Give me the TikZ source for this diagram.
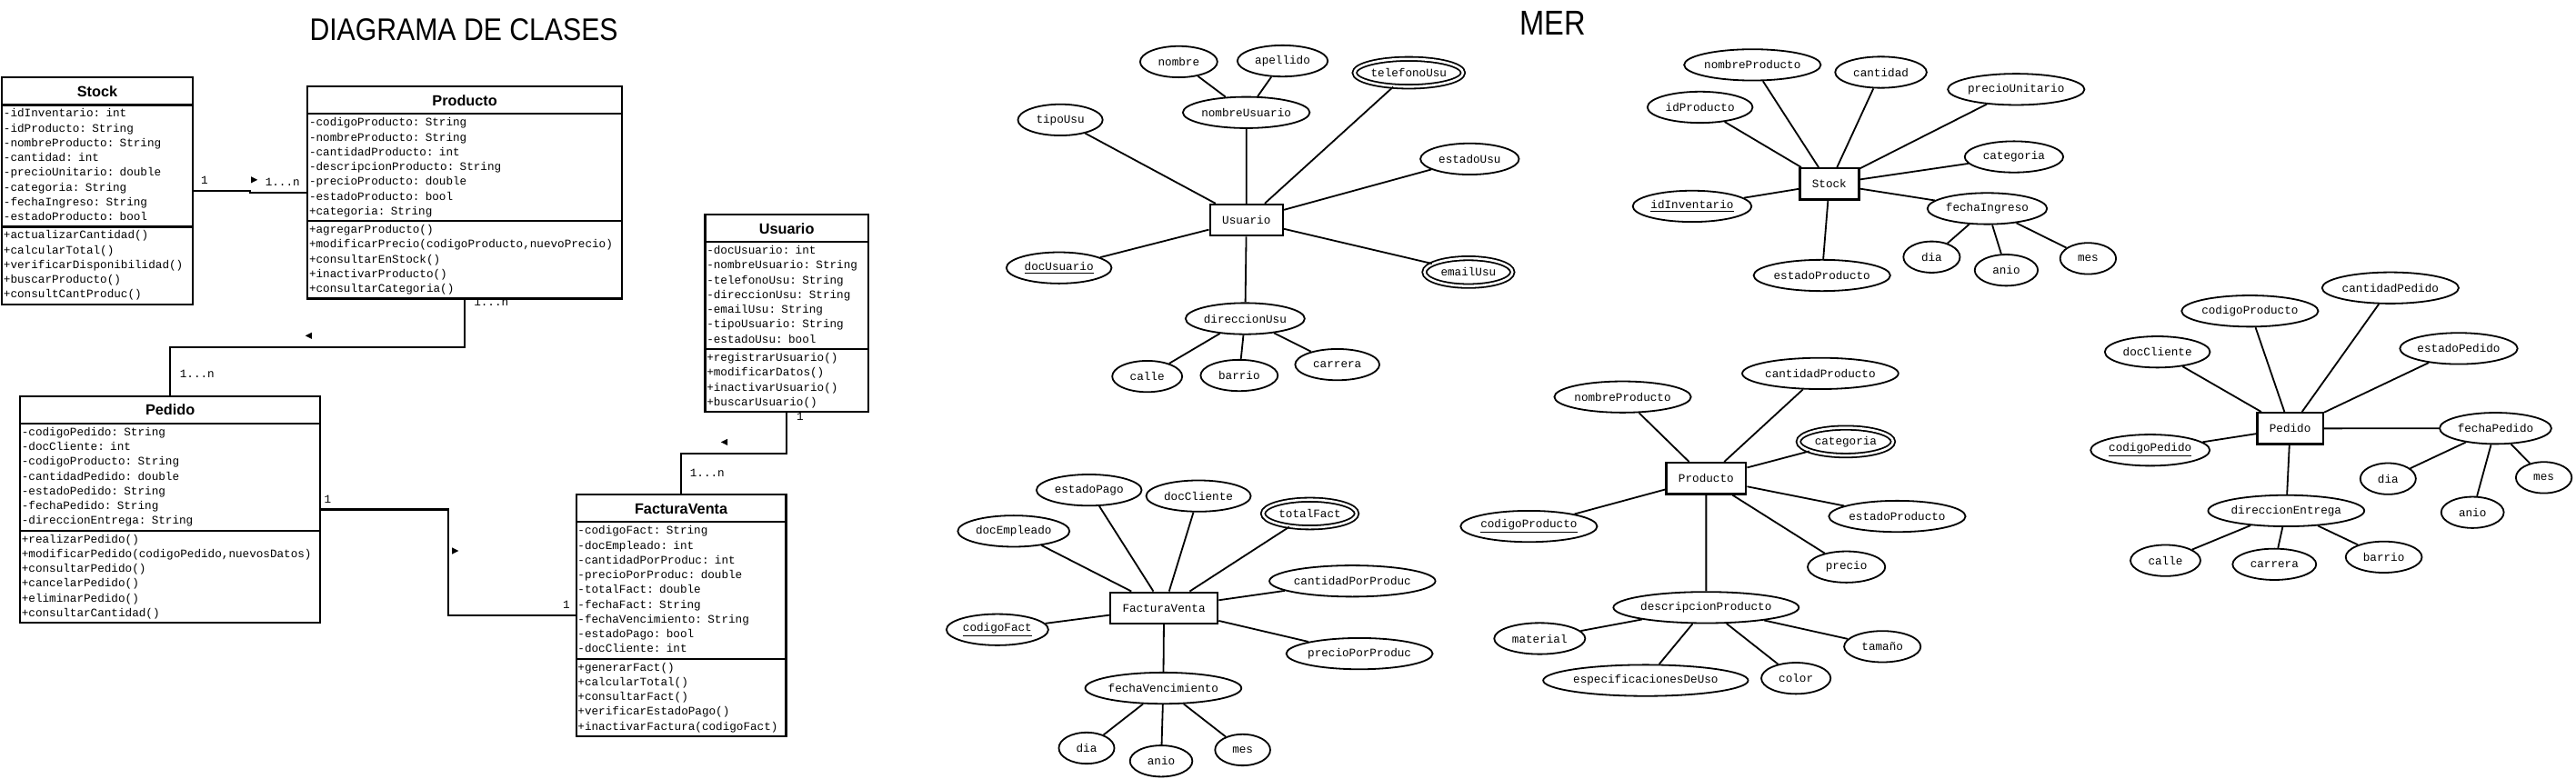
\documentclass[tikz,border=0pt]{standalone}
\usepackage{fontspec}
\usepackage{graphicx}
\newfontfamily\codefnt{Liberation Mono}
\newfontfamily\sansfnt{Liberation Sans}
\usetikzlibrary{arrows.meta,positioning,shapes.geometric,shapes.multipart,calc}

\newcommand{\clsname}[1]{\centering\sansfnt\fontsize{9}{9}\selectfont\bfseries\rule[-4pt]{0pt}{14.5pt}#1\par}
\newcommand{\clslines}[1]{\begin{tabular}{@{}l@{}}#1\end{tabular}}

\begin{document}
\begin{tikzpicture}[x=1pt,y=-1pt,
  classbox/.style={rectangle split,rectangle split parts=3,draw,line width=1.2pt,anchor=north west,
    inner xsep=1pt,inner ysep=0.5pt,font=\codefnt\fontsize{7}{9}\selectfont},
  conn/.style={line width=1.2pt},
  mult/.style={font=\codefnt\fontsize{7}{9}\selectfont,inner sep=0pt},
  navmark/.style={isosceles triangle,isosceles triangle stretches,fill,inner sep=0pt,
    minimum width=4pt,minimum height=4pt},
  entity/.style={draw,line width=1.3pt,minimum height=19pt,inner xsep=7.5pt,
    font=\codefnt\fontsize{7}{9}\selectfont},
  attr/.style={ellipse,draw,line width=1pt,minimum height=19pt,minimum width=#1,inner sep=0pt,
    font=\codefnt\fontsize{7}{9}\selectfont},
  multi/.style={attr=#1,double,double distance=1.4pt,minimum height=16.9pt},
  er/.style={line width=1pt}]
  \useasboundingbox (0,0) rectangle (1568,474);

  \node[font=\sansfnt\fontsize{19}{20}\selectfont,anchor=base] (titleCls) at (282.3,24.9) {\scalebox{0.88}[1]{DIAGRAMA DE CLASES}};
  \node[font=\sansfnt\fontsize{21}{22}\selectfont,anchor=base] (titleMer) at (945,21.2) {\scalebox{0.86}[1]{MER}};

  \node[classbox,text width=114pt] (stock) at (0.6,46.6) {\clsname{Stock}
    \nodepart{second}\clslines{-idInventario: int\\-idProducto: String\\-nombreProducto: String\\-cantidad: int\\-precioUnitario: double\\-categoria: String\\-fechaIngreso: String\\-estadoProducto: bool}
    \nodepart{third}\clslines{+actualizarCantidad()\\+calcularTotal()\\+verificarDisponibilidad()\\+buscarProducto()\\+consultCantProduc()}};
  \node[classbox,text width=189.4pt] (producto) at (186.6,52.1) {\clsname{Producto}
    \nodepart{second}\clslines{-codigoProducto: String\\-nombreProducto: String\\-cantidadProducto: int\\-descripcionProducto: String\\-precioProducto: double\\-estadoProducto: bool\\+categoria: String}
    \nodepart{third}\clslines{+agregarProducto()\\+modificarPrecio(codigoProducto,nuevoPrecio)\\+consultarEnStock()\\+inactivarProducto()\\+consultarCategoria()}};
  \node[classbox,text width=97.3pt] (usuario) at (428.6,130.1) {\clsname{Usuario}
    \nodepart{second}\clslines{-docUsuario: int\\-nombreUsuario: String\\-telefonoUsu: String\\-direccionUsu: String\\-emailUsu: String\\-tipoUsuario: String\\-estadoUsu: bool}
    \nodepart{third}\clslines{+registrarUsuario()\\+modificarDatos()\\+inactivarUsuario()\\+buscarUsuario()}};
  \node[classbox,text width=180.8pt] (pedido) at (11.6,240.6) {\clsname{Pedido}
    \nodepart{second}\clslines{-codigoPedido: String\\-docCliente: int\\-codigoProducto: String\\-cantidadPedido: double\\-estadoPedido: String\\-fechaPedido: String\\-direccionEntrega: String}
    \nodepart{third}\clslines{+realizarPedido()\\+modificarPedido(codigoPedido,nuevosDatos)\\+consultarPedido()\\+cancelarPedido()\\+eliminarPedido()\\+consultarCantidad()}};
  \node[classbox,text width=125.8pt] (factura) at (350.1,300.6) {\clsname{FacturaVenta}
    \nodepart{second}\clslines{-codigoFact: String\\-docEmpleado: int\\-cantidadPorProduc: int\\-precioPorProduc: double\\-totalFact: double\\-fechaFact: String\\-fechaVencimiento: String\\-estadoPago: bool\\-docCliente: int}
    \nodepart{third}\clslines{+generarFact()\\+calcularTotal()\\+consultarFact()\\+verificarEstadoPago()\\+inactivarFactura(codigoFact)}};

  \draw[conn] (stock.east) -| ($(stock.east)!.5!(producto.west)$) |- (producto.west);
  \draw[conn] (producto.south) |- ($(producto.south)!.5!(pedido.north)$) -| (pedido.north);
  \draw[conn] (usuario.south) |- ($(usuario.south)!.5!(factura.north)$) -| (factura.north);
  \draw[conn] (pedido.east) -| ($(pedido.east)!.5!(factura.west)$) |- (factura.west);

  \node[mult] (stkOne) at (124.5,109.5) {1};
  \node[navmark] (stkNav) at (154,109.5) {};
  \node[mult] (prdMany) at (172,110.8) {1...n};
  \node[mult] (prdMany2) at (299,184) {1...n};
  \node[navmark,shape border rotate=180] (prdNav) at (188.6,204.4) {};
  \node[mult] (pedMany) at (120,227.5) {1...n};
  \node[mult] (usuOne) at (487,253.4) {1};
  \node[navmark,shape border rotate=180] (usuNav) at (441.6,269.2) {};
  \node[mult] (facMany) at (430.5,288) {1...n};
  \node[mult] (pedOne) at (199.5,304) {1};
  \node[navmark] (pedNav) at (276.4,335.4) {};
  \node[mult] (facOne) at (344.7,368) {1};

  \node[entity] (eUsu) at (758.7,134) {Usuario};
  \node[attr=47] (uNombre) at (717.5,37.6) {nombre};
  \node[attr=55] (uApellido) at (780.7,37.1) {apellido};
  \node[multi=66] (uTelefono) at (857.5,44.3) {telefonoUsu};
  \node[attr=77] (uNombreUsu) at (758.6,68.5) {nombreUsuario};
  \node[attr=51.6] (uTipo) at (645.4,73) {tipoUsu};
  \node[attr=60] (uEstado) at (894.6,96.8) {estadoUsu};
  \node[attr=64] (uDoc) at (644.6,163.1) {\underline{docUsuario}};
  \node[multi=53.6] (uEmail) at (893.8,165.7) {emailUsu};
  \node[attr=72.5] (uDireccion) at (757.9,194) {direccionUsu};
  \node[attr=42.6] (uCalle) at (698.3,229.2) {calle};
  \node[attr=47] (uBarrio) at (754.3,228.6) {barrio};
  \node[attr=51.3] (uCarrera) at (814,222) {carrera};
  \draw[er] (uNombre) -- (uNombreUsu) (uApellido) -- (uNombreUsu) (uNombreUsu) -- (eUsu)
    (uTipo) -- (eUsu) (uTelefono) -- (eUsu) (uEstado) -- (eUsu) (uDoc) -- (eUsu)
    (uEmail) -- (eUsu) (uDireccion) -- (eUsu)
    (uCalle) -- (uDireccion) (uBarrio) -- (uDireccion) (uCarrera) -- (uDireccion);

  \node[entity] (eFac) at (708.5,370.2) {FacturaVenta};
  \node[attr=64] (fEstadoPago) at (662.9,298.4) {estadoPago};
  \node[attr=63.7] (fDocCliente) at (729.5,302) {docCliente};
  \node[multi=57] (fTotal) at (797.3,312.7) {totalFact};
  \node[attr=68] (fDocEmpleado) at (617,323.4) {docEmpleado};
  \node[attr=94] (fCantidad) at (823.2,353.8) {cantidadPorProduc};
  \node[attr=62] (fCodigo) at (607.1,383.4) {\underline{codigoFact}};
  \node[attr=85.5] (fPrecio) at (827.5,398) {precioPorProduc};
  \node[attr=89.6] (fFecha) at (708.1,419) {fechaVencimiento};
  \node[attr=33.8] (fDia) at (661.4,455.5) {dia};
  \node[attr=38] (fAnio) at (706.8,463.4) {anio};
  \node[attr=33.6] (fMes) at (756.4,456.6) {mes};
  \draw[er] (fEstadoPago) -- (eFac) (fDocCliente) -- (eFac) (fTotal) -- (eFac)
    (fDocEmpleado) -- (eFac) (fCantidad) -- (eFac) (fCodigo) -- (eFac)
    (fPrecio) -- (eFac) (fFecha) -- (eFac)
    (fDia) -- (fFecha) (fAnio) -- (fFecha) (fMes) -- (fFecha);

  \node[entity] (eStk) at (1113.5,112) {Stock};
  \node[attr=81] (sNombre) at (1066.7,39.5) {nombreProducto};
  \node[attr=55.7] (sCantidad) at (1144.9,44) {cantidad};
  \node[attr=64] (sIdProducto) at (1034.8,65.3) {idProducto};
  \node[attr=81] (sPrecio) at (1227.2,54.4) {precioUnitario};
  \node[attr=60] (sCategoria) at (1225.9,95.5) {categoria};
  \node[attr=72.3] (sIdInv) at (1030,125.6) {\underline{idInventario}};
  \node[attr=72.8] (sFecha) at (1209.6,127) {fechaIngreso};
  \node[attr=81] (sEstado) at (1109,167.7) {estadoProducto};
  \node[attr=34.4] (sDia) at (1175.8,156.5) {dia};
  \node[attr=38.4] (sAnio) at (1221.2,164.5) {anio};
  \node[attr=34] (sMes) at (1271,157.4) {mes};
  \draw[er] (sNombre) -- (eStk) (sCantidad) -- (eStk) (sIdProducto) -- (eStk)
    (sPrecio) -- (eStk) (sCategoria) -- (eStk) (sIdInv) -- (eStk)
    (sFecha) -- (eStk) (sEstado) -- (eStk)
    (sDia) -- (sFecha) (sAnio) -- (sFecha) (sMes) -- (sFecha);

  \node[entity] (ePrd) at (1038.5,291.3) {Producto};
  \node[attr=81.3] (pNombre) at (987.7,241.7) {nombreProducto};
  \node[attr=89] (pCantidad) at (1108,227.4) {cantidadProducto};
  \node[multi=57.6] (pCategoria) at (1123.5,268.9) {categoria};
  \node[attr=80.7] (pCodigo) at (930.6,320.5) {\underline{codigoProducto}};
  \node[attr=81.5] (pEstado) at (1154.8,314.4) {estadoProducto};
  \node[attr=47.2] (pPrecio) at (1123.9,345.2) {precio};
  \node[attr=102.3] (pDescripcion) at (1038.5,369.9) {descripcionProducto};
  \node[attr=55.4] (pMaterial) at (937.2,388.8) {material};
  \node[attr=46.6] (pTamano) at (1145.8,393.7) {tamaño};
  \node[attr=110] (pEspec) at (1001.7,414.3) {especificacionesDeUso};
  \node[attr=42.2] (pColor) at (1093.2,413) {color};
  \draw[er] (pNombre) -- (ePrd) (pCantidad) -- (ePrd) (pCategoria) -- (ePrd)
    (pCodigo) -- (ePrd) (pEstado) -- (ePrd) (pPrecio) -- (ePrd) (pDescripcion) -- (ePrd)
    (pMaterial) -- (pDescripcion) (pTamano) -- (pDescripcion)
    (pEspec) -- (pDescripcion) (pColor) -- (pDescripcion);

  \node[entity] (ePed) at (1394,260.9) {Pedido};
  \node[attr=81] (dCantidad) at (1455,175.3) {cantidadPedido};
  \node[attr=80.7] (dCodProd) at (1369.5,189.4) {codigoProducto};
  \node[attr=64] (dDocCliente) at (1313.2,214.3) {docCliente};
  \node[attr=71.6] (dEstado) at (1496.6,212.2) {estadoPedido};
  \node[attr=72.5] (dCodigo) at (1308.8,274.1) {\underline{codigoPedido}};
  \node[attr=68] (dFecha) at (1519,260.8) {fechaPedido};
  \node[attr=33.8] (dDia) at (1453.6,291.5) {dia};
  \node[attr=34] (dMes) at (1548.4,290.8) {mes};
  \node[attr=38.1] (dAnio) at (1505,312) {anio};
  \node[attr=89.2] (dDireccion) at (1391.6,311) {direccionEntrega};
  \node[attr=42.6] (dCalle) at (1318.1,341.3) {calle};
  \node[attr=50.9] (dCarrera) at (1384.4,343.6) {carrera};
  \node[attr=46.4] (dBarrio) at (1451,339.2) {barrio};
  \draw[er] (dCantidad) -- (ePed) (dCodProd) -- (ePed) (dDocCliente) -- (ePed)
    (dEstado) -- (ePed) (dCodigo) -- (ePed) (dFecha) -- (ePed) (dDireccion) -- (ePed)
    (dDia) -- (dFecha) (dMes) -- (dFecha) (dAnio) -- (dFecha)
    (dCalle) -- (dDireccion) (dCarrera) -- (dDireccion) (dBarrio) -- (dDireccion);
\end{tikzpicture}
\end{document}
